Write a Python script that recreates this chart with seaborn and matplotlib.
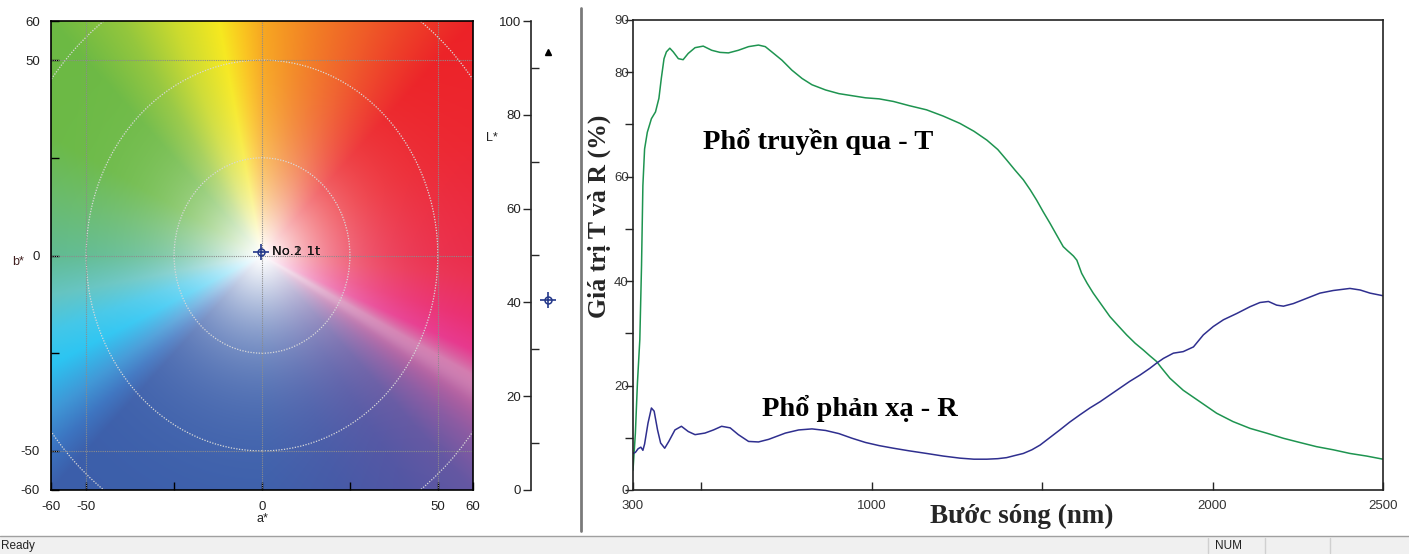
import numpy as np
import pandas as pd
import matplotlib
matplotlib.use("Agg")
import matplotlib.pyplot as plt
import matplotlib.colors as mcolors
from matplotlib.patches import Circle, Rectangle
from matplotlib.lines import Line2D
import seaborn as sns

sns.set_theme(style="white")
plt.rcParams['font.family'] = ['Liberation Sans Narrow', 'Liberation Sans', 'DejaVu Sans']
plt.rcParams['axes.unicode_minus'] = False
serif = ['Liberation Serif', 'DejaVu Serif']

# --- spectra ---
t_nm = [300, 307, 313, 320, 325, 329, 334, 342, 354, 366, 376, 383, 391, 398, 408,
        418, 433, 447, 462, 482, 506, 531, 555, 580, 609, 639, 668, 688, 707, 737,
        766, 796, 825, 865, 904, 943, 982, 1022, 1064, 1110, 1161, 1210, 1259, 1300,
        1338, 1370, 1396, 1420, 1445, 1465, 1484, 1503, 1523, 1542, 1562, 1575, 1582,
        1592, 1602, 1616, 1632, 1650, 1675, 1699, 1724, 1748, 1773, 1797, 1816, 1836,
        1850, 1875, 1914, 1963, 2012, 2060, 2110, 2158, 2208, 2256, 2305, 2354, 2403,
        2452, 2500]
t_val = [3.8, 10.9, 20.5, 28.8, 42.9, 58.3, 65.3, 68.5, 71.1, 72.4, 75.0, 78.8, 82.6,
         83.9, 84.6, 83.9, 82.6, 82.4, 83.6, 84.7, 85.0, 84.2, 83.8, 83.7, 84.2, 84.9,
         85.2, 84.9, 83.9, 82.3, 80.4, 78.8, 77.6, 76.6, 75.9, 75.5, 75.1, 74.9, 74.4,
         73.6, 72.8, 71.6, 70.2, 68.7, 67.0, 65.2, 63.2, 61.3, 59.4, 57.5, 55.5, 53.3,
         51.1, 48.9, 46.6, 45.8, 45.4, 44.8, 44.0, 41.5, 39.6, 37.7, 35.4, 33.2, 31.4,
         29.7, 28.1, 26.8, 25.7, 24.6, 23.4, 21.4, 19.1, 16.9, 14.7, 13.1, 11.8, 10.9,
         9.9, 9.1, 8.3, 7.7, 7.0, 6.5, 5.9]

r_nm = [300, 307, 315, 323, 329, 334, 344, 354, 362, 372, 381, 393, 405, 423, 442, 462,
        482, 511, 536, 560, 585, 609, 639, 668, 698, 747, 786, 825, 865, 904, 943, 982,
        1022, 1064, 1110, 1161, 1210, 1259, 1300, 1338, 1370, 1396, 1420, 1445, 1470,
        1494, 1522, 1552, 1581, 1611, 1640, 1670, 1699, 1728, 1757, 1787, 1816, 1836,
        1856, 1885, 1914, 1944, 1973, 2002, 2032, 2071, 2110, 2139, 2164, 2188, 2208,
        2237, 2276, 2315, 2354, 2403, 2433, 2462, 2500]
r_val = [7.0, 7.2, 7.9, 8.2, 7.6, 8.8, 12.8, 15.7, 15.1, 11.5, 9.0, 8.0, 9.3, 11.5, 12.2,
         11.2, 10.6, 10.9, 11.5, 12.2, 11.9, 10.6, 9.3, 9.2, 9.7, 10.9, 11.5, 11.7, 11.4,
         10.8, 9.9, 9.1, 8.5, 8.0, 7.5, 7.0, 6.5, 6.1, 5.9, 5.9, 6.0, 6.2, 6.6, 7.0, 7.7,
         8.6, 10.0, 11.5, 13.0, 14.4, 15.7, 16.9, 18.2, 19.5, 20.8, 22.0, 23.3, 24.3, 25.2,
         26.2, 26.5, 27.4, 29.7, 31.3, 32.6, 33.8, 35.1, 35.9, 36.1, 35.4, 35.2, 35.7,
         36.7, 37.7, 38.2, 38.6, 38.3, 37.7, 37.2]

# --- colour sample ---
sample_a, sample_b, sample_L = -0.3, 0.9, 40.6
white_L = 93.4

# hue anchors for the a*b* background (angle in degrees, colour at full chroma)
hue_angle = [0, 27, 45, 63, 76, 90, 95, 101.5, 112.6, 123.7, 135, 153, 166, 180, 189.5,
             198, 205, 213.7, 219.8, 225, 270, 290, 305, 315, 322, 328, 333, 338, 345,
             355, 360]
hue_color = ['#ea2a48', '#ec2530', '#ec2227', '#ef5a25', '#f27d20', '#f7a61c', '#fac21a',
             '#f6e81a', '#cbda2b', '#93c63b', '#6cb943', '#6ab945', '#67ba6a', '#5eba90',
             '#62c3c0', '#3fc6e8', '#29c4f2', '#3d96d6', '#3b73c0', '#3b5eaa', '#3b5eaa',
             '#4458a6', '#5255a3', '#6457a2', '#8a5aa2', '#b45d9f', '#d070a8', '#e7368c',
             '#ea2d70', '#ea2e50', '#ea2a48']

W, H = 1409, 554
fig = plt.figure(figsize=(W / 100, H / 100), dpi=100)
fig.patch.set_facecolor('white')


def box(l, t, r, b):
    return [l / W, 1 - b / H, (r - l) / W, (b - t) / H]


# ---------------- a* b* panel ----------------
ax_c = fig.add_axes(box(51, 21, 473, 490))
g = np.linspace(-60, 60, 700)
A, B = np.meshgrid(g, g)
ang = np.degrees(np.arctan2(B, A)) % 360
rad = np.hypot(A, B)
anchors = np.array([mcolors.to_rgb(c) for c in hue_color])
rgb = np.stack([np.interp(ang, hue_angle, anchors[:, k]) for k in range(3)], axis=-1)
sat = 1 - np.exp(-(rad / 21) ** 1.3)
sat *= 1 - 0.12 * np.exp(-((ang - 331) / 3.0) ** 2)
img = 1 - sat[..., None] * (1 - rgb)
ax_c.imshow(img, origin='lower', extent=(-60, 60, -60, 60), aspect='auto',
            interpolation='bilinear')
for v in (-50, 0, 50):
    ax_c.axhline(v, color='#8c8c8c', lw=0.8, ls=(0, (1, 1)))
    ax_c.axvline(v, color='#8c8c8c', lw=0.8, ls=(0, (1, 1)))
for rr in (25, 50, 75):
    ax_c.add_patch(Circle((0, 0), rr, fill=False, ec='#d9d9d9', lw=0.9, ls=(0, (1, 1.2))))
ax_c.set_xlim(-60, 60)
ax_c.set_ylim(-60, 60)
ax_c.set_xticks([-60, -50, 0, 50, 60])
ax_c.set_yticks([-60, -50, 0, 50, 60])
ax_c.set_xticks([-25, 25], minor=True)
ax_c.set_yticks([-25, 25], minor=True)
ax_c.tick_params(which='both', direction='in', length=6, width=1, color='black',
                 labelsize=9.5, labelcolor='#222222', pad=8,
                 bottom=True, left=True)
for s in ax_c.spines.values():
    s.set_color('black')
    s.set_linewidth(1.2)
ax_c.plot(sample_a, sample_b, marker='+', ms=12, mew=1.2, color='#24388a', ls='none')
ax_c.plot(sample_a, sample_b, marker='o', ms=5, mfc='none', mew=1.1, mec='#24388a', ls='none')
ax_c.text(2.8, 0.9, 'No.1 1t', fontsize=9.5, va='center', color='#333333',
          family=['DejaVu Sans'])
ax_c.text(2.8, 0.9, 'No.2 1t', fontsize=9.5, va='center', color='#111111',
          family=['DejaVu Sans'])
fig.text(18 / W, 1 - 262 / H, 'b*', fontsize=9, color='#402020', ha='center', va='center')
fig.text(262 / W, 1 - 519 / H, 'a*', fontsize=9, color='#222222', ha='center', va='center')

# ---------------- L* panel ----------------
ax_l = fig.add_axes(box(531, 21, 571, 490))
ax_l.set_xlim(0, 1)
ax_l.set_ylim(0, 100)
ax_l.set_facecolor('none')
for k in ('top', 'right', 'bottom'):
    ax_l.spines[k].set_visible(False)
ax_l.spines['left'].set_color('#222222')
ax_l.spines['left'].set_linewidth(1.2)
ax_l.set_xticks([])
ax_l.set_yticks([0, 20, 40, 60, 80, 100])
ax_l.set_yticks([10, 30, 50, 70, 90], minor=True)
ax_l.tick_params(axis='y', which='major', direction='out', length=6, width=1, pad=1,
                 labelsize=9.5, labelcolor='#222222', left=True)
ax_l.tick_params(axis='y', which='minor', direction='in', length=6, width=1, left=True)
ax_l.plot(0.43, white_L, marker='^', ms=5, color='black', ls='none')
ax_l.plot(0.43, sample_L, marker='+', ms=12, mew=1.2, color='#24388a', ls='none')
ax_l.plot(0.43, sample_L, marker='o', ms=5, mfc='none', mew=1.1, mec='#24388a', ls='none')
fig.text(492 / W, 1 - 138 / H, 'L*', fontsize=9, color='#222222', ha='center', va='center')

# separator
fig.add_artist(Line2D([581 / W, 581 / W], [1 - 8 / H, 1 - 531 / H], color='#7a7a7a', lw=2))

# ---------------- spectra panel ----------------
ax_s = fig.add_axes(box(633, 20, 1383, 490))
df_t = pd.DataFrame({'nm': t_nm, 'val': t_val})
df_r = pd.DataFrame({'nm': r_nm, 'val': r_val})
sns.lineplot(data=df_t, x='nm', y='val', ax=ax_s, color='#1e9450', lw=1.1, estimator=None)
sns.lineplot(data=df_r, x='nm', y='val', ax=ax_s, color='#2f2f8f', lw=1.1, estimator=None)
ax_s.set_xlim(300, 2500)
ax_s.set_ylim(0, 90)
ax_s.set_xticks([300, 1000, 2000, 2500])
ax_s.set_xticks([500, 1500], minor=True)
ax_s.set_yticks([0, 20, 40, 60, 80, 90])
ax_s.set_yticks([10, 30, 50, 70], minor=True)
ax_s.tick_params(axis='x', which='both', direction='in', length=6, width=1,
                 labelsize=9.5, labelcolor='#333333', bottom=True, pad=7)
ax_s.tick_params(axis='y', which='both', direction='out', length=6, width=1, pad=-3,
                 labelsize=9.5, labelcolor='#333333', left=True)
for s in ax_s.spines.values():
    s.set_color('#222222')
    s.set_linewidth(1.2)
ax_s.set_xlabel('')
ax_s.set_ylabel('')
ax_s.text(506, 66.8, 'Phổ truyền qua - T', fontsize=20.5, fontweight='bold',
          family=serif, va='center', ha='left', color='black')
ax_s.text(678, 15.7, 'Phổ phản xạ - R', fontsize=20.5, fontweight='bold',
          family=serif, va='center', ha='left', color='black')
fig.text(599 / W, 1 - 216 / H, 'Giá trị T và R (%)', fontsize=18.5, fontweight='bold',
         family=serif, rotation=90, ha='center', va='center')
fig.text(1022 / W, 1 - 516 / H, 'Bước sóng (nm)', fontsize=19.5, fontweight='bold',
         family=serif, ha='center', va='center')

# ---------------- status bar ----------------
fig.add_artist(Rectangle((0, 0), 1, 18 / H, transform=fig.transFigure,
                         facecolor='#f0f0f0', edgecolor='none'))
fig.add_artist(Line2D([0, 1], [18 / H, 18 / H], color='#a0a0a0', lw=1))
for xs in (1208, 1265, 1330):
    fig.add_artist(Line2D([xs / W, xs / W], [1 / H, 16 / H], color='#d0d0d0', lw=1))
fig.text(0.5 / W, 8 / H, 'Ready', fontsize=8.5, va='center', ha='left', color='#222222')
fig.text(1228 / W, 8 / H, 'NUM', fontsize=8.5, va='center', ha='center', color='#222222')

fig.savefig('out.png', dpi=100, facecolor='white')
